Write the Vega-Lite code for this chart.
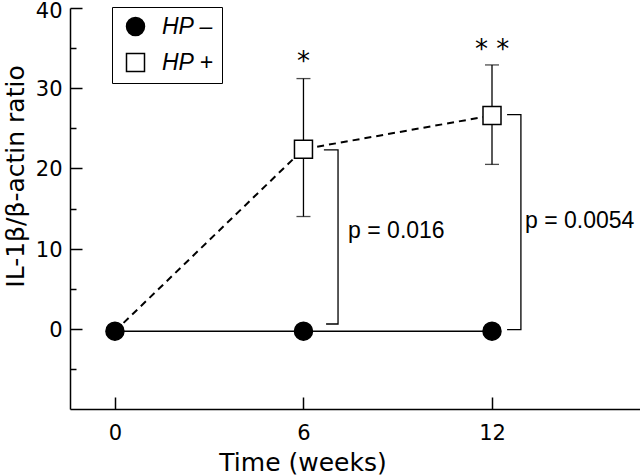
{
  "$schema": "https://vega.github.io/schema/vega-lite/v6.json",
  "width": 570,
  "height": 401,
  "autosize": {"type": "none"},
  "padding": {"left": 70, "top": 8, "right": 0, "bottom": 66},
  "background": "white",
  "config": {
    "view": {"stroke": null},
    "font": "DejaVu Sans",
    "axis": {
      "domainColor": "black", "domainWidth": 1.5, "tickColor": "black", "tickWidth": 1.5,
      "labelColor": "black", "titleColor": "black", "grid": false,
      "labelFont": "DejaVu Sans", "titleFont": "DejaVu Sans", "titleFontWeight": "normal"
    },
    "legend": {
      "orient": "none", "legendX": 42, "legendY": -1, "strokeColor": "black",
      "padding": 8, "symbolOffset": 4, "symbolSize": 324, "symbolStrokeWidth": 1.5,
      "labelFont": "Liberation Sans", "labelFontSize": 23, "labelFontStyle": "italic",
      "labelOffset": 15, "rowPadding": 11, "labelColor": "black", "title": null
    }
  },
  "datasets": {
    "main": [
      {"series": "HP –", "week": 0, "value": -0.3},
      {"series": "HP –", "week": 6, "value": -0.3},
      {"series": "HP –", "week": 12, "value": -0.3},
      {"series": "HP +", "week": 0, "value": -0.3},
      {"series": "HP +", "week": 6, "value": 22.4, "lo": 14.0, "hi": 31.2},
      {"series": "HP +", "week": 12, "value": 26.6, "lo": 20.5, "hi": 32.9}
    ],
    "brackets": [
      {"bracket": 1, "seq": 1, "week": 6.65, "value": 22.3},
      {"bracket": 1, "seq": 2, "week": 7.10, "value": 22.3},
      {"bracket": 1, "seq": 3, "week": 7.10, "value": 0.6},
      {"bracket": 1, "seq": 4, "week": 6.72, "value": 0.6},
      {"bracket": 2, "seq": 1, "week": 12.48, "value": 26.7},
      {"bracket": 2, "seq": 2, "week": 12.92, "value": 26.7},
      {"bracket": 2, "seq": 3, "week": 12.92, "value": -0.1},
      {"bracket": 2, "seq": 4, "week": 12.48, "value": -0.1}
    ],
    "stars": [
      {"week": 6, "value": 32.3, "label": "*"},
      {"week": 12, "value": 33.8, "label": "* *"}
    ],
    "pvals": [
      {"week": 7.42, "value": 11.35, "label": "p = 0.016"},
      {"week": 13.05, "value": 12.6, "label": "p = 0.0054"}
    ]
  },
  "layer": [
    {
      "data": {"name": "main"},
      "transform": [{"filter": "datum.series === 'HP –'"}],
      "mark": {"type": "line", "color": "black", "strokeWidth": 1.5},
      "encoding": {
        "x": {
          "field": "week", "type": "quantitative",
          "scale": {"domain": [-1.43, 16.71], "nice": false, "zero": false},
          "axis": {
            "values": [0, 6, 12], "tickSize": -12, "labelPadding": 25, "labelFontSize": 21,
            "title": "Time (weeks)", "titleFontSize": 25, "titleX": 232.5, "titleY": 61,
            "titleBaseline": "alphabetic", "titleAlign": "center"
          }
        },
        "y": {
          "field": "value", "type": "quantitative",
          "scale": {"domain": [-10, 40], "nice": false, "zero": false},
          "axis": {
            "values": [-5, 0, 5, 10, 15, 20, 25, 30, 35, 40],
            "labelExpr": "datum.value % 10 === 0 ? datum.label : ''",
            "tickSize": {"condition": {"test": "datum.value % 10 !== 0", "value": -6}, "value": -12},
            "labelPadding": 20, "labelFontSize": 21,
            "labelOffset": {"condition": {"test": "datum.value === 40", "value": 3.5}, "value": 1.5},
            "title": "IL-1β/β-actin ratio", "titleFontSize": 25, "titleX": -47, "titleY": 168,
            "titleBaseline": "alphabetic", "titleAngle": -90, "titleAlign": "center"
          }
        }
      }
    },
    {
      "data": {"name": "main"},
      "transform": [{"filter": "datum.series === 'HP +'"}],
      "mark": {"type": "line", "color": "black", "strokeWidth": 2, "strokeDash": [7, 5]},
      "encoding": {
        "x": {"field": "week", "type": "quantitative"},
        "y": {"field": "value", "type": "quantitative"},
        "order": {"field": "week"}
      }
    },
    {
      "data": {"name": "main"},
      "transform": [{"filter": "isValid(datum.lo)"}],
      "mark": {"type": "rule", "color": "black", "strokeWidth": 1.3},
      "encoding": {
        "x": {"field": "week", "type": "quantitative"},
        "y": {"field": "lo", "type": "quantitative"},
        "y2": {"field": "hi"}
      }
    },
    {
      "data": {"name": "main"},
      "transform": [{"filter": "isValid(datum.lo)"}],
      "mark": {"type": "tick", "color": "black", "orient": "horizontal", "size": 14, "thickness": 1.3},
      "encoding": {
        "x": {"field": "week", "type": "quantitative"},
        "y": {"field": "lo", "type": "quantitative"}
      }
    },
    {
      "data": {"name": "main"},
      "transform": [{"filter": "isValid(datum.hi)"}],
      "mark": {"type": "tick", "color": "black", "orient": "horizontal", "size": 14, "thickness": 1.3},
      "encoding": {
        "x": {"field": "week", "type": "quantitative"},
        "y": {"field": "hi", "type": "quantitative"}
      }
    },
    {
      "data": {"name": "brackets"},
      "mark": {"type": "line", "color": "black", "strokeWidth": 1.3},
      "encoding": {
        "x": {"field": "week", "type": "quantitative"},
        "y": {"field": "value", "type": "quantitative"},
        "detail": {"field": "bracket"},
        "order": {"field": "seq"}
      }
    },
    {
      "data": {"name": "main"},
      "transform": [{"filter": "datum.series === 'HP –' || datum.week > 0"}],
      "mark": {"type": "point", "stroke": "black", "strokeWidth": 1.5, "size": 324, "opacity": 1, "fillOpacity": 1},
      "encoding": {
        "x": {"field": "week", "type": "quantitative"},
        "y": {"field": "value", "type": "quantitative"},
        "shape": {"field": "series", "type": "nominal", "scale": {"domain": ["HP –", "HP +"], "range": ["circle", "square"]}},
        "fill": {"field": "series", "type": "nominal", "scale": {"domain": ["HP –", "HP +"], "range": ["black", "white"]}}
      }
    },
    {
      "data": {"name": "stars"},
      "mark": {"type": "text", "align": "center", "baseline": "alphabetic", "font": "DejaVu Sans", "fontSize": 26, "color": "black"},
      "encoding": {
        "x": {"field": "week", "type": "quantitative"},
        "y": {"field": "value", "type": "quantitative"},
        "text": {"field": "label"}
      }
    },
    {
      "data": {"name": "pvals"},
      "mark": {"type": "text", "align": "left", "baseline": "alphabetic", "font": "Liberation Sans", "fontSize": 23, "color": "black"},
      "encoding": {
        "x": {"field": "week", "type": "quantitative"},
        "y": {"field": "value", "type": "quantitative"},
        "text": {"field": "label"}
      }
    }
  ]
}
